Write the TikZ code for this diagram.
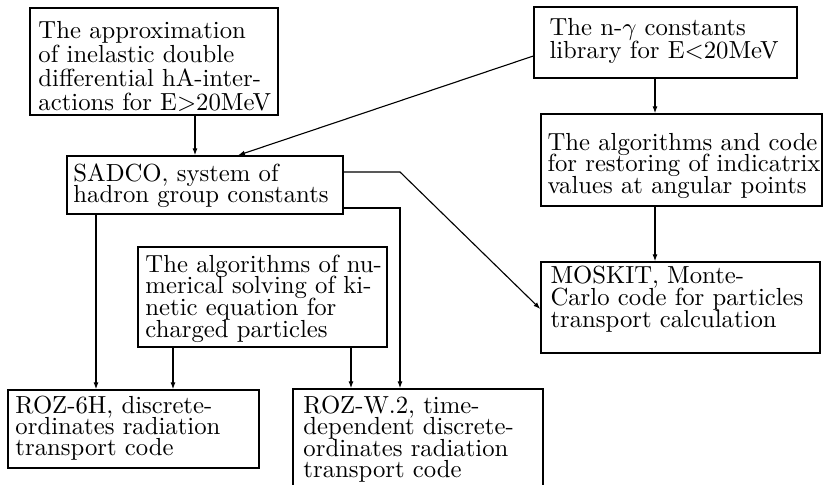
\documentclass[tikz,border=0pt]{standalone}
\usetikzlibrary{arrows.meta,fit,calc}
\protected\def\boxfont#1{\fontsize{10pt}{#1}\selectfont\lineskiplimit=-20pt\relax\lineskip=0pt\relax}
\begin{document}
\begin{tikzpicture}[x=0.4047pt,y=-0.4047pt,
  box/.style={draw,line width=0.55pt,inner sep=0pt},
  txt/.style={anchor=base west,inner sep=0pt,text width=130pt,align=left,
    font=\boxfont{#1}},
  arr/.style={-{Latex[length=2.8pt,width=2pt]},line width=0.45pt}]
\useasboundingbox (0,0) rectangle (824,484);
% boxes
\node (A)  [box, fit={(30,8) (278,115)}] {};
\node (S)  [box, fit={(67,156) (343,214)}] {};
\node (N)  [box, fit={(534,7) (797,78)}] {};
\node (I)  [box, fit={(541,114) (822,206)}] {};
\node (M)  [box, fit={(541,262) (820,353)}] {};
\node (K)  [box, fit={(138,247) (387,347)}] {};
\node (R6) [box, fit={(8,390) (259,468)}] {};
\node (RW) [box, fit={(293,389) (543,495)}] {};
% texts
\node (At)  [txt=9.7pt] at (38,39) {The approximation\\of inelastic double\\differential hA-inter-\\actions for E>20MeV};
\node (St)  [txt=8.5pt] at (73,181.5) {SADCO, system of\\hadron group constants};
\node (Nt)  [txt=9.7pt] at (549,35) {The n-$\gamma$ constants\\library for E<20MeV};
\node (It)  [txt=8.8pt] at (547,150) {The algorithms and code\\for restoring of indicatrix\\values at angular points};
\node (Kt)  [txt=8.8pt] at (145,272) {The algorithms of nu-\\merical solving of ki-\\netic equation for\\charged particles};
\node (R6t) [txt=8.5pt] at (15,413.5) {ROZ-6H, discrete-\\ordinates radiation\\transport code};
\node (RWt) [txt=8.6pt] at (303,413.5) {ROZ-W.2, time-\\dependent discrete-\\ordinates radiation\\transport code};
\node (Mt)  [txt=8.95pt] at (550,283.5) {MOSKIT, Monte-\\Carlo code for particles\\transport calculation};
% helper coordinates
\coordinate (xa) at (195,0);
\coordinate (xb) at (238,0);
\coordinate (ya) at (0,56);
\coordinate (xg) at (655,0);
\coordinate (k1) at (400,172);
\coordinate (k2) at (0,309);
\coordinate (k3) at (400,208);
\coordinate (xd) at (96,0);
\coordinate (xe) at (173,0);
\coordinate (xf) at (351,0);
% connectors
\draw[arr] (A.south -| xa) -- (S.north -| xa);
\draw[arr] (N.west |- ya) -- (S.north -| xb);
\draw[arr] (N.south -| xg) -- (I.north -| xg);
\draw[arr] (I.south -| xg) -- (M.north -| xg);
\draw[arr] (S.east |- k1) -- (k1) -- (M.west |- k2);
\draw[arr] (S.east |- k3) -- (k3) -- (k3 |- RW.north);
\draw[arr] (S.south -| xd) -- (R6.north -| xd);
\draw[arr] (K.south -| xe) -- (R6.north -| xe);
\draw[arr] (K.south -| xf) -- (RW.north -| xf);
\end{tikzpicture}
\end{document}
